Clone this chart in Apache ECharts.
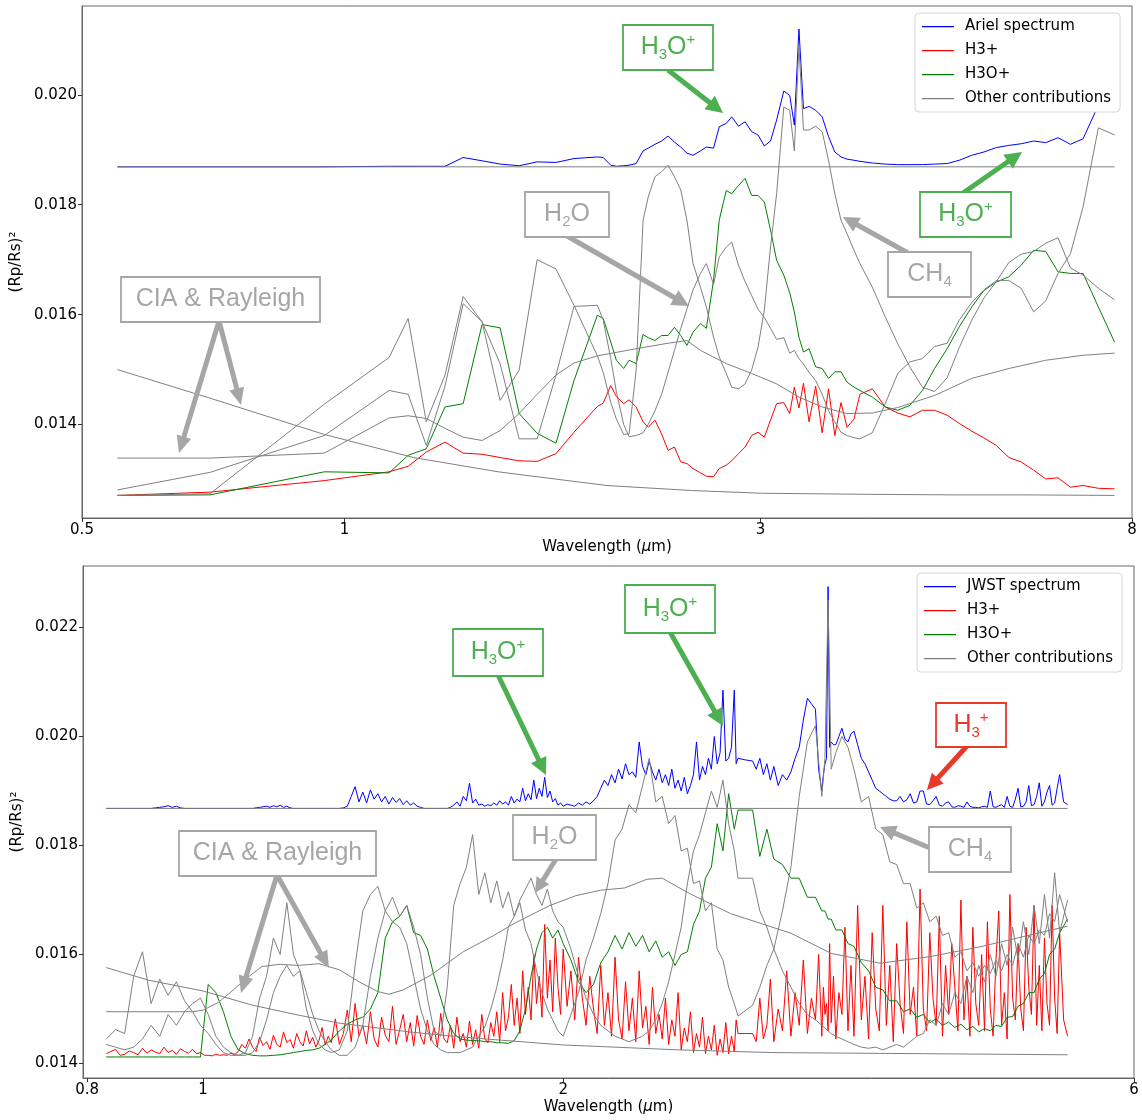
<!DOCTYPE html>
<html>
<head>
<meta charset="utf-8">
<script src="https://cdn.jsdelivr.net/npm/echarts@6/dist/echarts.min.js"></script>
<style>
html,body{margin:0;padding:0;background:#fff;}
#chart{width:1142px;height:1120px;}
</style>
</head>
<body>
<div id="chart"></div>
<script>
// ================= DATA =================
// wavelengths in micron; transit depth (Rp/Rs)^2 stored in units of 1e-3

// ---- Ariel panel (shared binning) ----
const arielWl = [0.549,0.701,0.948,1.125,1.183,1.241,1.304,1.368,1.438,1.508,
1.586,1.663,1.748,1.833,1.95,1.98,2.02,2.05,2.09,2.12,
2.16,2.20,2.23,2.27,2.31,2.35,2.39,2.43,2.47,2.51,
2.56,2.60,2.65,2.69,2.74,2.78,2.83,2.88,2.93,2.98,
3.03,3.08,3.13,3.19,3.24,3.28,3.32,3.36,3.41,3.47,
3.53,3.59,3.65,3.71,3.77,3.84,3.90,4.03,4.17,4.31,
4.45,4.60,4.75,4.91,5.07,5.24,5.41,5.59,5.78,5.97,
6.17,6.37,6.58,6.80,7.03,7.32,7.64];
const arielSpectrum = [18.69,18.69,18.69,18.70,18.70,18.70,18.70,18.86,18.80,18.74,
18.71,18.78,18.77,18.84,18.87,18.86,18.72,18.70,18.71,18.72,
18.75,18.98,19.03,19.10,19.16,19.25,19.14,19.05,18.94,18.90,
18.98,19.05,19.03,19.42,19.48,19.60,19.43,19.51,19.33,19.27,
19.07,19.16,19.54,20.07,19.99,19.45,21.20,19.75,19.79,19.72,
19.60,19.24,18.96,18.87,18.83,18.81,18.79,18.76,18.74,18.73,
18.73,18.73,18.74,18.75,18.81,18.90,18.96,19.04,19.08,19.11,
19.16,19.13,19.22,19.10,19.20,19.81,20.00];
const arielH3 = [12.71,12.77,12.98,13.14,13.24,13.50,13.68,13.48,13.46,13.40,
13.34,13.33,13.47,13.86,14.33,14.39,14.71,14.51,14.38,14.45,
14.32,14.05,13.95,14.08,13.83,13.53,13.59,13.32,13.29,13.20,
13.12,13.06,13.05,13.20,13.26,13.34,13.47,13.59,13.80,13.86,
13.77,14.08,14.38,14.40,14.20,14.68,14.30,14.75,14.05,14.70,
13.85,14.65,13.80,14.40,13.95,14.10,14.55,14.65,14.32,14.21,
14.14,14.26,14.26,14.17,14.02,13.88,13.76,13.62,13.40,13.32,
13.17,13.01,13.03,12.86,12.89,12.84,12.83];
const arielH3O = [12.71,12.72,13.14,13.12,13.44,13.56,14.32,14.38,15.82,15.76,
14.20,13.84,13.66,14.80,15.99,15.93,15.50,15.17,15.02,15.17,
15.11,15.64,15.58,15.53,15.62,15.62,15.77,15.62,15.44,15.68,
15.84,15.75,16.63,17.72,18.26,18.20,18.35,18.48,18.17,18.17,
18.05,17.54,16.99,16.72,16.40,16.05,15.59,15.32,15.38,15.05,
15.02,14.84,14.96,14.96,14.77,14.68,14.62,14.50,14.32,14.26,
14.35,14.62,15.02,15.38,15.78,16.14,16.44,16.59,16.69,16.90,
17.17,17.15,16.78,16.75,16.75,16.14,15.50];
const arielOtherCH4 = [12.71,12.74,14.37,15.22,15.93,14.05,14.90,16.33,15.87,14.44,
14.99,17.00,16.83,16.17,15.25,14.95,14.40,14.10,13.82,13.83,
14.99,17.72,18.14,18.51,18.60,18.72,18.51,18.27,17.72,16.93,
16.50,16.14,15.59,15.23,14.93,14.68,14.65,14.74,14.99,15.41,
16.08,17.23,18.20,19.78,19.72,18.98,20.90,19.36,19.36,19.43,
19.33,18.81,18.20,17.72,17.47,17.17,16.93,16.50,15.96,15.47,
15.05,14.68,14.60,14.85,15.40,15.90,16.30,16.60,16.95,17.10,
17.15,17.30,17.40,16.85,16.72,16.48,16.27];
const arielOtherH2O = [12.81,13.13,13.80,14.62,14.55,13.62,14.70,16.20,15.87,15.11,
13.74,13.74,14.90,16.15,16.17,15.90,15.20,14.60,14.00,13.78,
13.80,13.85,14.00,14.25,14.55,14.95,15.35,15.75,16.10,16.45,
16.75,16.93,16.55,17.05,17.23,17.32,16.90,16.60,16.35,16.10,
15.95,15.75,15.55,15.58,15.30,15.35,15.20,15.10,14.95,14.80,
14.55,14.25,14.05,13.86,13.80,13.76,13.74,13.85,14.38,14.93,
15.14,15.20,15.42,15.48,15.90,16.22,16.45,16.62,16.62,16.48,
16.05,16.25,16.75,17.11,17.96,19.40,19.27];
const arielCiaWl = [0.549,0.701,0.948,1.125,1.183,1.241,1.304,1.368,1.438,1.508,
1.586,1.663,1.748,1.833,1.95,2.16,2.35,2.47,2.56,2.74,
2.93,3.13,3.32,3.53,3.77,4.03,4.31,4.75,5.24,5.78,
6.37,7.03,7.64];
const arielCia = [13.39,13.39,13.48,14.12,14.16,14.11,13.93,13.77,13.71,13.89,
14.20,14.55,14.90,15.12,15.25,15.38,15.48,15.53,15.35,15.11,
14.93,14.74,14.50,14.32,14.20,14.21,14.31,14.53,14.84,15.02,
15.17,15.26,15.30];
const arielRayWl = [0.549,0.701,0.948,1.2,1.5,2.0,2.5,3.0,4.0,5.0,6.0,7.64];
const arielRay = [15.00,14.48,13.82,13.40,13.14,12.89,12.80,12.75,12.73,12.72,12.72,12.71];
const arielFlatWl = [0.549,7.64];
const arielFlat = [18.69,18.69];

// ---- JWST panel ----
const jwstWl = [0.83,0.845,0.86,0.875,0.89,0.905,0.92,0.935,0.95,0.965,
0.98,0.995,1.01,1.025,1.04,1.055,1.07,1.085,1.10,1.115,
1.13,1.145,1.16,1.175,1.19,1.205,1.22,1.235,1.25,1.265,
1.28,1.30,1.32,1.34,1.36,1.38,1.40,1.42,1.44,1.46,
1.48,1.50,1.52,1.54,1.56,1.58,1.60,1.62,1.64,1.66,
1.68,1.70,1.72,1.74,1.76,1.78,1.80,1.82,1.84,1.86,
1.88,1.90,1.92,1.94,1.96,1.98,2.00,2.03,2.06,2.09,
2.12,2.15,2.18,2.21,2.24,2.27,2.30,2.33,2.36,2.39,
2.42,2.45,2.48,2.51,2.54,2.57,2.60,2.63,2.66,2.69,
2.72,2.75,2.78,2.80,2.88,2.92,2.96,3.00,3.05,3.10,
3.15,3.20,3.25,3.29,3.31,3.33,3.35,3.38,3.42,3.46,
3.50,3.55,3.60,3.65,3.70,3.75,3.80,3.85,3.90,3.95,
4.00,4.05,4.10,4.15,4.20,4.25,4.30,4.35,4.40,4.45,
4.50,4.55,4.60,4.65,4.70,4.75,4.80,4.85,4.90,4.95,
5.00,5.05,5.10,5.15,5.20,5.28];
// finer sampling for the two noisiest curves: each bin of jwstWl followed by the midpoint to the next bin
const jwstFineWl = [];
jwstWl.forEach((w, i) => { jwstFineWl.push(w); if (i < jwstWl.length - 1) jwstFineWl.push(+((w + jwstWl[i + 1]) / 2).toFixed(4)); });

const jwstSpectrum = [18.68,18.68,18.68,18.68,18.68,18.68,18.68,18.68,18.68,18.68,18.68,18.69,18.70,18.71,18.73,18.70,18.72,18.69,18.68,18.68,
18.68,18.68,18.68,18.68,18.68,18.68,18.68,18.68,18.68,18.68,18.68,18.68,18.68,18.68,18.68,18.68,18.68,18.69,18.70,18.71,
18.72,18.70,18.73,18.71,18.74,18.70,18.72,18.69,18.68,18.68,18.68,18.68,18.68,18.68,18.68,18.68,18.68,18.68,18.68,18.68,
18.68,18.68,18.68,18.69,18.72,18.90,19.08,18.80,18.98,18.78,19.02,18.85,18.95,18.80,18.90,18.76,18.88,18.79,18.86,18.75,
18.82,18.74,18.78,18.72,18.70,18.68,18.68,18.68,18.68,18.68,18.68,18.68,18.68,18.70,18.74,18.80,18.72,18.90,18.82,19.14,
18.78,18.85,18.74,18.76,18.72,18.75,18.73,18.78,18.74,18.82,18.76,18.80,18.74,18.90,18.78,18.85,18.80,19.05,18.82,18.95,
18.84,19.20,18.86,19.05,18.90,19.25,18.88,19.00,18.80,18.86,18.74,18.78,18.72,18.76,18.74,18.72,18.78,18.74,18.80,18.76,
18.82,18.90,19.05,19.20,19.10,19.30,19.15,19.40,19.22,19.50,19.30,19.35,19.25,19.90,19.45,19.30,19.55,19.35,19.20,19.40,
19.15,19.30,19.10,19.40,19.05,19.20,19.00,19.25,18.95,19.10,19.30,19.90,19.20,19.45,19.30,19.60,19.40,20.00,19.50,19.70,
20.85,19.55,19.60,19.80,20.85,19.50,19.60,19.57,19.55,19.40,19.60,19.30,19.50,19.20,19.45,19.10,19.30,19.20,19.35,19.60,
19.80,20.30,20.70,20.60,20.50,19.40,19.00,19.30,19.50,19.60,22.75,19.80,19.90,19.85,19.85,20.00,20.15,19.95,19.90,20.05,
20.10,19.85,19.60,19.50,19.35,19.20,19.05,19.00,18.95,18.90,18.85,18.82,18.82,18.90,18.80,18.84,18.95,18.78,18.80,19.00,
19.00,18.76,18.75,18.82,18.90,18.74,18.72,18.78,18.80,18.71,18.70,18.73,18.72,18.70,18.80,18.72,18.70,18.70,18.69,18.71,
18.72,18.70,19.00,18.71,18.70,18.73,18.75,18.70,18.90,18.72,18.70,18.85,19.05,18.71,18.72,18.80,19.10,18.73,18.75,18.90,
19.15,18.72,18.80,18.98,19.10,18.74,18.78,19.05,19.30,18.80,18.75];
const jwstH3 = [14.18,14.22,14.26,14.15,14.17,14.23,14.20,14.16,14.28,14.19,14.25,14.21,14.18,14.30,14.20,14.24,14.17,14.27,14.22,14.19,
14.26,14.18,14.20,14.15,14.15,14.14,14.17,14.15,14.16,14.15,14.19,14.16,14.22,14.35,14.28,14.45,14.30,14.22,14.48,14.33,
14.40,14.26,14.52,14.35,14.30,14.58,14.38,14.44,14.28,14.55,14.40,14.32,14.60,14.36,14.48,14.30,14.42,14.66,14.34,14.50,
14.38,14.82,14.35,14.55,14.98,14.40,15.10,14.50,14.70,14.36,14.95,14.45,14.30,14.85,14.52,14.40,15.05,14.35,14.62,14.90,
14.40,14.75,14.32,14.88,14.50,14.35,14.80,14.42,14.66,14.30,14.92,14.45,14.38,14.70,14.28,14.85,14.40,14.55,14.30,14.78,
14.35,14.62,14.28,14.90,14.45,14.38,14.75,14.50,14.95,14.40,15.30,14.60,14.85,15.45,14.70,15.20,14.55,15.70,14.90,15.40,
14.80,16.00,15.10,15.60,14.85,16.55,15.20,15.90,14.95,16.30,15.40,14.90,16.10,15.05,15.70,14.80,15.95,15.20,14.70,15.60,
15.00,14.55,15.80,14.70,15.30,14.50,15.95,14.80,14.45,15.50,14.60,15.20,14.40,15.70,14.65,15.05,14.35,15.40,14.55,14.90,
14.45,15.20,14.35,14.80,14.50,15.30,14.25,14.65,14.40,14.95,14.20,14.55,14.30,14.85,14.18,14.50,14.25,14.70,14.15,14.45,
14.20,14.75,14.18,14.50,14.22,14.80,14.55,14.55,14.55,14.40,15.20,14.45,14.70,15.55,14.40,15.00,14.60,15.70,14.50,15.30,
14.70,15.90,14.55,15.20,14.80,16.00,14.50,15.40,14.90,15.10,14.60,16.20,14.75,15.60,14.45,15.30,14.90,16.50,14.60,15.80,
14.50,16.90,14.80,15.60,14.45,16.40,15.00,14.60,16.90,14.70,15.80,14.40,16.20,15.10,14.55,16.60,14.90,15.40,14.50,17.20,
15.00,14.60,16.40,15.20,14.70,16.70,14.50,15.80,14.90,16.20,15.40,14.60,17.00,14.80,15.60,14.50,16.50,15.10,14.70,16.00,
14.60,16.60,15.00,14.50,15.90,16.80,14.70,15.30,14.45,17.10,15.20,14.80,16.20,15.00,14.60,16.50,15.40,14.90,16.90,14.70,
15.80,14.60,16.30,15.10,14.70,16.90,15.20,14.55,16.40,14.80,14.50];
const jwstH3O = [14.12,14.12,14.12,14.12,14.12,14.12,14.12,14.12,14.12,14.12,
14.12,14.12,15.45,15.30,14.95,14.50,14.25,14.18,14.15,14.14,
14.14,14.15,14.16,14.18,14.20,14.22,14.24,14.25,14.28,14.35,
14.43,14.60,14.72,14.80,14.85,15.00,15.30,16.30,16.60,16.70,
16.90,16.40,16.35,16.10,15.60,15.20,14.80,14.55,14.45,14.43,
14.42,14.42,14.40,14.40,14.38,14.38,14.37,14.42,14.60,15.00,
15.60,16.10,16.40,16.50,16.30,16.45,16.20,15.90,15.50,15.30,
15.45,15.85,16.05,16.35,16.10,16.40,16.15,16.35,16.05,16.25,
15.95,16.05,15.80,16.00,16.05,16.55,16.80,17.40,17.60,18.40,
17.90,18.95,18.30,18.65,18.65,17.80,18.30,17.75,17.65,17.40,
17.40,17.05,17.05,16.80,16.80,16.65,16.65,16.45,16.45,16.20,
16.15,15.85,15.70,15.40,15.35,15.15,15.15,14.95,15.00,14.85,
14.90,14.75,14.82,14.70,14.76,14.66,14.72,14.62,14.68,14.58,
14.64,14.60,14.70,14.68,14.85,14.86,15.05,15.10,15.30,15.30,
15.55,15.65,16.00,16.10,16.40,16.65];
const jwstOtherCH4 = [14.45,14.62,14.55,15.60,16.05,15.10,15.55,15.25,15.50,15.15,
14.95,14.70,14.55,14.35,14.20,14.15,14.15,14.20,14.50,15.20,
15.60,16.30,16.00,16.95,16.00,15.70,15.00,14.60,14.35,14.25,
14.20,14.25,14.60,15.80,16.80,17.10,17.25,16.80,17.05,16.70,
16.90,16.50,16.00,15.20,14.60,14.50,15.40,16.90,17.30,17.60,
18.20,17.10,17.50,16.95,17.35,16.85,17.15,16.70,16.95,16.45,
16.20,15.70,15.30,15.00,14.80,14.60,14.50,14.90,15.30,15.90,
16.30,16.75,17.30,18.10,18.30,18.75,18.60,19.10,19.60,18.80,
18.90,18.40,18.55,17.90,17.95,17.30,17.35,16.80,16.95,16.10,
15.90,15.40,15.10,14.87,15.07,15.40,15.80,16.10,16.80,17.60,
18.90,19.90,20.20,18.90,19.60,22.50,19.40,19.70,20.00,19.80,
19.40,18.80,18.90,18.30,18.20,17.70,17.65,17.30,17.30,16.85,
16.95,16.60,16.70,16.35,16.40,15.95,16.05,15.70,15.85,15.60,
15.80,15.65,15.90,15.70,16.00,15.80,16.20,15.95,16.35,16.20,
16.45,16.35,16.75,16.60,17.10,16.60];
const jwstOtherH2O = [14.35,14.30,14.25,14.30,14.45,14.70,14.50,14.90,14.70,14.95,
15.10,15.20,14.90,14.50,14.30,14.20,14.15,14.15,14.20,14.40,
14.80,15.30,15.60,15.80,15.60,15.70,15.30,14.90,14.60,14.40,
14.25,14.15,14.15,14.30,14.70,15.60,16.30,16.80,16.60,16.50,
16.20,15.60,15.00,14.60,14.35,14.25,14.20,14.20,14.20,14.25,
14.30,14.50,14.67,15.00,15.40,15.90,16.51,16.70,17.00,17.20,
17.40,17.10,16.90,17.20,16.80,16.60,16.50,16.10,15.60,15.20,
14.90,14.70,14.60,14.50,14.45,14.40,14.45,14.50,14.60,14.80,
15.10,15.50,16.00,16.50,17.30,17.90,18.20,18.60,19.00,18.70,
19.20,18.40,17.90,17.40,17.40,16.80,16.50,16.10,15.70,15.40,
15.10,14.90,14.80,14.70,14.65,14.60,14.55,14.50,14.45,14.40,
14.35,14.30,14.28,14.30,14.25,14.30,14.35,14.30,14.40,14.50,
14.55,14.80,14.70,15.10,14.90,15.30,15.10,15.60,15.30,15.80,
15.50,16.00,15.60,16.20,15.80,16.50,15.90,16.60,16.00,16.90,
16.20,17.10,16.30,17.50,16.40,17.00];
const jwstCiaWl = [0.83,0.98,1.0,1.03,1.06,1.09,1.12,1.16,1.2,1.25,
1.3,1.35,1.4,1.43,1.47,1.55,1.65,1.75,1.82,1.95,
2.05,2.15,2.25,2.35,2.42,2.55,2.76,3.1,3.35,3.68,
4.05,4.46,5.28];
const jwstCia = [14.95,14.95,14.98,15.12,15.35,15.58,15.78,15.82,15.80,15.83,
15.72,15.50,15.32,15.27,15.35,15.62,16.05,16.35,16.57,16.90,
17.08,17.18,17.22,17.38,17.40,17.12,16.75,16.39,16.02,15.84,
15.96,16.14,16.52];
const jwstRayWl = [0.83,0.90,1.0,1.1,1.2,1.3,1.5,1.7,2.0,2.5,3.0,4.0,5.28];
const jwstRay = [15.76,15.53,15.33,15.07,14.89,14.74,14.57,14.46,14.34,14.25,14.20,14.18,14.16];
const jwstFlatWl = [0.83,5.28];
const jwstFlat = [18.68,18.68];

// tick labels
const arielXTicks = [0.5, 1, 3, 8];
const jwstXTicks = [0.8, 1, 2, 6];
const arielYTicks = [0.014, 0.016, 0.018, 0.020];
const jwstYTicks = [0.014, 0.016, 0.018, 0.020, 0.022];

// ================= CHART =================
const FONT = '"DejaVu Sans", sans-serif';
const AFONT = '"Liberation Sans", Arial, sans-serif';
const BLUE = '#0000ff', RED = '#ff0000', GREEN = '#008000', GREY = '#808080';

function pts(xs, ys) { return xs.map((x, i) => [x, ys[i] / 1000]); }
function ser(name, gi, xs, ys, color) {
  return {
    name, type: 'line', xAxisIndex: gi, yAxisIndex: gi, data: pts(xs, ys),
    symbol: 'none', showSymbol: false, smooth: false, animation: false, silent: true,
    lineStyle: { color, width: 1 }, itemStyle: { color }, emphasis: { disabled: true }, z: 2
  };
}
function xAx(gi, min, max, ticks) {
  return {
    type: 'log', logBase: 10, gridIndex: gi, min, max,
    name: '{a|Wavelength (}{i|μ}{a|m)}', nameLocation: 'middle', nameGap: 22,
    nameTextStyle: { rich: { a: { fontFamily: FONT, fontSize: 15, color: '#000' }, i: { fontFamily: FONT, fontSize: 15, color: '#000', fontStyle: 'italic' } } },
    axisLine: { show: true, lineStyle: { color: '#666' } },
    axisTick: { show: true, customValues: ticks, length: 4, lineStyle: { color: '#333' } },
    axisLabel: { customValues: ticks, fontFamily: FONT, fontSize: 15, color: '#000', margin: 5,
      formatter: v => String(+(+v).toPrecision(3)) },
    minorTick: { show: false }, splitLine: { show: false }
  };
}
function yAx(gi, min, max, ticks) {
  return {
    type: 'value', gridIndex: gi, min, max,
    name: '(Rp/Rs)²', nameLocation: 'middle', nameGap: 56,
    nameTextStyle: { fontFamily: FONT, fontSize: 15, color: '#000' },
    axisLine: { show: true, lineStyle: { color: '#666' } },
    axisTick: { show: true, customValues: ticks, length: 4, lineStyle: { color: '#333' } },
    axisLabel: { customValues: ticks, fontFamily: FONT, fontSize: 15, color: '#000', margin: 5,
      formatter: v => (+v).toFixed(3) },
    splitLine: { show: false }
  };
}
// legend glyph: a thin horizontal line (the two zero-size stubs fix the icon's box to 32x14)
const LINE_ICON = 'path://M0,0L0.01,0M0,6.4L32,6.4L32,7.7L0,7.7ZM0,14L0.01,14';
function legend(left, top, first) {
  return {
    left, top, orient: 'vertical', selectedMode: false, icon: LINE_ICON,
    data: [first, 'H3+', 'H3O+', 'Other contributions'],
    itemWidth: 32, itemHeight: 14, itemGap: 9,
    padding: [6, 9, 6, 7], backgroundColor: '#fff', borderColor: '#d6d6d6', borderWidth: 1, borderRadius: 4,
    textStyle: { fontFamily: FONT, fontSize: 15, color: '#000', padding: [0, 0, 0, 6] }
  };
}

// ---- annotations (boxes + arrows) ----
const CG = '#4caf50', CX = '#a6a6a6', CR = '#e8392d';
function rich(color) {
  return {
    a: { fontSize: 25, fontFamily: AFONT, fill: color, color, lineHeight: 30, verticalAlign: 'middle' },
    s: { fontSize: 15, fontFamily: AFONT, fill: color, color, lineHeight: 15, verticalAlign: 'bottom' },
    p: { fontSize: 15, fontFamily: AFONT, fill: color, color, lineHeight: 15, verticalAlign: 'top' }
  };
}
const LABELS = {
  h3o: '{a|H}{s|3}{a|O}{p|+}',
  h2o: '{a|H}{s|2}{a|O}',
  ch4: '{a|CH}{s|4}',
  h3: '{a|H}{s|3}{p|+}',
  cia: '{a|CIA & Rayleigh}'
};
function box(x, y, w, h, color, key) {
  return [
    { type: 'rect', shape: { x, y, width: w, height: h }, style: { fill: '#fff', stroke: color, lineWidth: 1.8 }, z: 110 },
    { type: 'text', x: x + w / 2, y: y + h / 2, z: 111,
      style: { text: LABELS[key], rich: rich(color), align: 'center', verticalAlign: 'middle', textAlign: 'center', textVerticalAlign: 'middle' } }
  ];
}
function arrow(x1, y1, x2, y2, color, w, hl, hw) {
  const dx = x2 - x1, dy = y2 - y1, L = Math.hypot(dx, dy), ux = dx / L, uy = dy / L;
  const bx = x2 - ux * hl, by = y2 - uy * hl;
  return [
    { type: 'line', shape: { x1, y1, x2: bx + ux * 2, y2: by + uy * 2 }, style: { stroke: color, lineWidth: w }, z: 105 },
    { type: 'polygon', shape: { points: [[x2, y2], [bx - uy * hw / 2, by + ux * hw / 2], [bx + uy * hw / 2, by - ux * hw / 2]] }, style: { fill: color }, z: 105 }
  ];
}
const graphics = [].concat(
  // Ariel panel
  arrow(668, 70, 723, 113, CG, 5, 17, 17), box(623, 25, 90, 45, CG, 'h3o'),
  arrow(963, 193, 1022, 152, CG, 5, 17, 17), box(920, 192, 91, 45, CG, 'h3o'),
  arrow(567, 236, 689, 306, CX, 5, 17, 17), box(525, 192, 84, 45, CX, 'h2o'),
  arrow(908, 253, 843, 217, CX, 5, 16, 16), box(888, 252, 83, 45, CX, 'ch4'),
  arrow(219, 321, 179, 453, CX, 5, 17, 15), arrow(219, 321, 241, 405, CX, 5, 17, 15), box(121, 277, 199, 45, CX, 'cia'),
  // JWST panel
  arrow(498, 675, 546, 775, CG, 5, 17, 17), box(453, 629, 90, 47, CG, 'h3o'),
  arrow(670, 632, 723, 726, CG, 5, 17, 17), box(625, 585, 90, 48, CG, 'h3o'),
  arrow(556, 859, 535, 893, CX, 5, 15, 15), box(513, 815, 83, 45, CX, 'h2o'),
  arrow(277, 875, 241, 993, CX, 5, 17, 15), arrow(277, 875, 329, 968, CX, 5, 17, 15), box(179, 831, 197, 45, CX, 'cia'),
  arrow(967, 746, 927, 790, CR, 5, 16, 16), box(936, 703, 70, 44, CR, 'h3'),
  arrow(930, 848, 880, 827, CX, 5, 16, 16), box(929, 827, 82, 45, CX, 'ch4')
);

const option = {
  animation: false,
  backgroundColor: '#fff',
  grid: [
    { left: 82, top: 6, width: 1050, height: 512, show: true, borderColor: '#666', borderWidth: 1, backgroundColor: 'transparent' },
    { left: 83, top: 566, width: 1051, height: 512, show: true, borderColor: '#666', borderWidth: 1, backgroundColor: 'transparent' }
  ],
  xAxis: [xAx(0, 0.5, 8, arielXTicks), xAx(1, 0.7937, 6.0, jwstXTicks)],
  yAxis: [yAx(0, 0.0122993, 0.0216169, arielYTicks), yAx(1, 0.013734, 0.023128, jwstYTicks)],
  legend: [legend(915, 13, 'Ariel spectrum'), legend(917, 573, 'JWST spectrum')],
  series: [
    ser('Ariel spectrum', 0, arielWl, arielSpectrum, BLUE),
    ser('H3+', 0, arielWl, arielH3, RED),
    ser('H3O+', 0, arielWl, arielH3O, GREEN),
    ser('Other contributions', 0, arielWl, arielOtherCH4, GREY),
    ser('Other contributions', 0, arielWl, arielOtherH2O, GREY),
    ser('Other contributions', 0, arielCiaWl, arielCia, GREY),
    ser('Other contributions', 0, arielRayWl, arielRay, GREY),
    ser('Other contributions', 0, arielFlatWl, arielFlat, GREY),
    ser('JWST spectrum', 1, jwstFineWl, jwstSpectrum, BLUE),
    ser('H3+', 1, jwstFineWl, jwstH3, RED),
    ser('H3O+', 1, jwstWl, jwstH3O, GREEN),
    ser('Other contributions', 1, jwstWl, jwstOtherCH4, GREY),
    ser('Other contributions', 1, jwstWl, jwstOtherH2O, GREY),
    ser('Other contributions', 1, jwstCiaWl, jwstCia, GREY),
    ser('Other contributions', 1, jwstRayWl, jwstRay, GREY),
    ser('Other contributions', 1, jwstFlatWl, jwstFlat, GREY)
  ],
  graphic: { elements: graphics }
};

const chart = echarts.init(document.getElementById('chart'), null, { renderer: 'canvas' });
chart.setOption(option);
</script>
</body>
</html>
